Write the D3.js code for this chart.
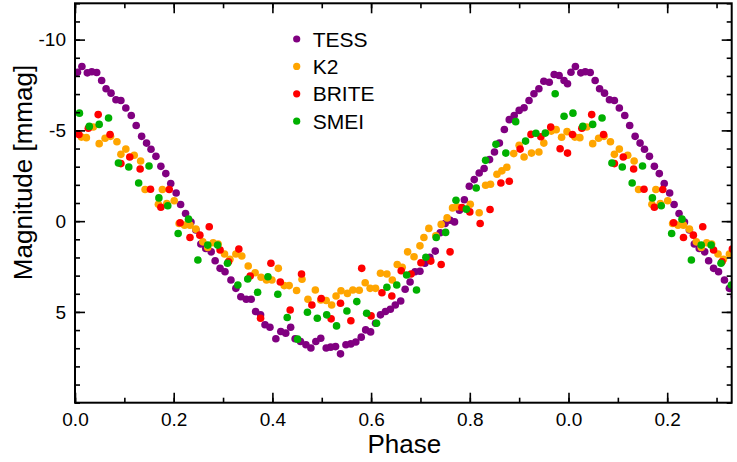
<!DOCTYPE html>
<html>
<head>
<meta charset="utf-8">
<title>Phased light curve</title>
<script src="https://d3js.org/d3.v7.min.js"></script>
<style>
  body { margin: 0; background: #fff; }
  text { font-family: "Liberation Sans", Arial, Helvetica, sans-serif; fill: #000; }
</style>
</head>
<body>
<script>
// one cycle of phase / magnitude (mmag) per instrument
// every point is drawn again at phase + 1
const tessPhase = [0.005,0.014,0.025,0.034,0.044,0.054,0.063,0.073,0.083,0.093,0.103,0.114,0.124,0.135,0.145,0.154,0.164,0.174,0.184,0.194,
  0.205,0.214,0.224,0.235,0.245,0.255,0.265,0.276,0.284,0.294,0.304,0.316,0.326,0.336,0.347,0.357,0.366,0.376,0.385,0.395,
  0.407,0.417,0.427,0.437,0.446,0.457,0.468,0.478,0.488,0.498,0.509,0.518,0.528,0.538,0.549,0.559,0.569,0.580,0.589,0.599,
  0.609,0.619,0.629,0.639,0.649,0.660,0.669,0.679,0.689,0.699,0.709,0.719,0.730,0.740,0.750,0.760,0.769,0.779,0.789,0.799,
  0.809,0.819,0.829,0.840,0.850,0.860,0.870,0.880,0.890,0.900,0.910,0.920,0.930,0.940,0.950,0.961,0.971,0.981,0.991,0.998];
const tessMag = [-8.20,-8.52,-8.17,-8.23,-8.19,-7.75,-7.29,-7.05,-6.69,-6.65,-6.23,-5.82,-5.27,-4.67,-4.30,-3.96,-3.57,-3.02,-2.62,-2.07,
  -1.55,-0.92,-0.42,0.05,0.49,1.26,1.50,1.69,2.18,2.60,2.79,3.24,3.70,4.16,4.30,4.30,4.98,5.16,5.71,5.84,
  6.48,6.08,6.17,5.84,6.48,6.63,6.81,6.99,6.63,6.45,6.99,6.94,6.91,7.31,6.81,6.76,6.66,6.39,5.99,6.10,
  5.62,5.16,4.98,4.85,4.62,4.40,3.75,3.35,2.79,2.76,2.32,1.99,1.65,0.64,0.13,-0.05,0.04,-0.60,-1.18,-1.92,
  -2.29,-2.65,-2.90,-3.39,-3.81,-4.30,-5.05,-5.59,-5.82,-6.10,-6.25,-6.65,-7.02,-7.29,-7.71,-7.65,-8.08,-8.02,-7.75,-7.57];

const k2Phase = [0.013,0.023,0.037,0.049,0.061,0.072,0.085,0.093,0.103,0.120,0.133,0.142,0.169,0.177,0.186,0.201,0.211,0.222,0.233,0.245,
  0.259,0.269,0.280,0.290,0.303,0.314,0.326,0.338,0.351,0.365,0.377,0.388,0.399,0.412,0.424,0.434,0.449,0.460,0.472,0.487,
  0.498,0.509,0.520,0.529,0.539,0.552,0.563,0.576,0.588,0.598,0.609,0.619,0.632,0.643,0.653,0.663,0.674,0.687,0.699,0.707,
  0.717,0.731,0.742,0.754,0.765,0.774,0.801,0.819,0.832,0.842,0.855,0.865,0.875,0.889,0.900,0.910,0.925,0.940,0.950,0.965,
  0.975,0.986,0.997];
const k2Mag = [-4.63,-4.60,-5.19,-4.27,-4.57,-4.67,-4.37,-3.68,-3.97,-3.63,-3.31,-1.74,-0.93,-1.74,-0.97,-1.12,0.13,0.22,0.22,0.44,
  1.14,1.45,1.19,1.26,1.81,2.10,1.81,1.92,2.47,2.84,3.09,3.24,3.24,2.60,3.55,3.55,3.82,3.20,4.30,3.79,
  4.34,4.37,4.62,4.12,3.83,3.98,3.79,3.81,3.39,3.70,3.70,2.87,2.91,3.24,2.39,2.54,1.69,1.96,1.36,0.90,
  0.40,0.81,0.18,-0.18,-0.73,-0.79,-0.93,-0.46,-1.98,-2.03,-2.58,-2.77,-2.97,-3.72,-4.18,-3.53,-3.75,-3.81,-4.30,-4.96,
  -5.04,-4.62,-4.93];

const britePhase = [0.008,0.027,0.047,0.071,0.093,0.111,0.132,0.153,0.174,0.191,0.213,0.233,0.253,0.272,0.294,0.311,0.332,0.355,0.376,0.397,
  0.416,0.436,0.459,0.480,0.499,0.519,0.538,0.559,0.581,0.600,0.622,0.642,0.661,0.681,0.701,0.721,0.742,0.760,0.784,0.800,
  0.821,0.841,0.863,0.880,0.902,0.924,0.944,0.964,0.983,0.998];
const briteMag = [-4.77,-5.12,-5.87,-4.77,-3.17,-3.53,-2.87,-1.76,-0.77,-1.74,0.09,0.90,0.77,0.31,1.59,2.24,1.54,3.02,5.35,2.32,
  3.35,4.89,2.91,4.62,4.26,5.38,4.52,5.49,2.60,5.22,3.94,4.12,2.73,2.91,2.29,2.20,2.39,1.69,-0.75,-0.51,
  0.13,-0.64,-2.10,-2.20,-3.97,-4.78,-4.65,-5.18,-3.99,-3.75];

const smeiPhase = [0.009,0.029,0.049,0.068,0.088,0.109,0.129,0.150,0.170,0.188,0.209,0.230,0.249,0.269,0.289,0.309,0.330,0.350,0.370,0.391,
  0.411,0.430,0.451,0.471,0.491,0.510,0.530,0.551,0.571,0.591,0.611,0.632,0.652,0.672,0.692,0.711,0.732,0.751,0.772,0.793,
  0.813,0.832,0.853,0.873,0.893,0.913,0.934,0.953,0.973,0.991];
const smeiMag = [-5.95,-5.22,-5.33,-5.68,-3.20,-2.98,-2.10,-3.04,-1.28,-0.85,0.68,-0.11,2.14,1.32,1.32,2.32,3.52,3.19,3.92,3.06,
  4.03,5.31,6.50,5.02,5.35,5.16,5.77,4.95,4.43,5.07,5.62,3.64,3.52,2.97,3.79,1.99,0.90,0.62,-1.15,-0.66,
  -1.83,-3.35,-4.23,-3.75,-5.48,-4.41,-4.84,-4.85,-7.02,-5.78];

const seriesNames = ["TESS", "K2", "BRITE", "SMEI"];
const seriesColors = ["#800080", "#ffa500", "#ff0000", "#00b000"];
const seriesPhase = [tessPhase, k2Phase, britePhase, smeiPhase];
const seriesMag = [tessMag, k2Mag, briteMag, smeiMag];

const xTicks = [0, 0.2, 0.4, 0.6, 0.8, 1.0, 1.2];
const yTicks = [-10, -5, 0, 5];

const W = 737, H = 462;
const margin = { top: 3.3, right: 5.3, bottom: 59.3, left: 75 };
const width = W - margin.left - margin.right;
const height = H - margin.top - margin.bottom;

const svg = d3.select("body").append("svg")
  .attr("width", W)
  .attr("height", H);

const g = svg.append("g")
  .attr("transform", "translate(" + margin.left + "," + margin.top + ")");

const x = d3.scaleLinear().domain([0, 1.3307]).range([0, width]);
const y = d3.scaleLinear().domain([-12, 10]).range([0, height]);

g.append("clipPath").attr("id", "clip")
  .append("rect").attr("width", width).attr("height", height);

// points, each cycle drawn twice
const dots = g.append("g").attr("clip-path", "url(#clip)");
seriesNames.forEach(function(name, s) {
  let pts = [];
  seriesPhase[s].forEach(function(p, i) {
    pts.push({ p: p, m: seriesMag[s][i] });
    pts.push({ p: p + 1, m: seriesMag[s][i] });
  });
  dots.append("g").selectAll("circle")
    .data(pts.filter(d => d.p <= 1.36))
    .enter().append("circle")
    .attr("cx", d => x(d.p))
    .attr("cy", d => y(d.m))
    .attr("r", 3.8)
    .attr("fill", seriesColors[s]);
});

// axes, ticks pointing inward
const xMinor = d3.range(0, 1.35, 0.1);
const yMinor = d3.range(-12, 10.5, 1);
const fmtPhase = d => ((d + 1e-9) % 1).toFixed(1);
const fmtMag = d => String(d); // plain hyphen for negatives

function styleAxis(sel) {
  sel.select(".domain").remove();
  sel.selectAll("line").attr("stroke", "#000").attr("stroke-width", 1.6);
  sel.selectAll("text").style("font-size", "19px");
}

g.append("g").attr("transform", "translate(0," + height + ")")
  .call(d3.axisBottom(x).tickValues(xMinor).tickSize(-5).tickFormat(""))
  .call(styleAxis);
g.append("g").attr("transform", "translate(0," + height + ")")
  .call(d3.axisBottom(x).tickValues(xTicks).tickSize(-10).tickPadding(10).tickFormat(fmtPhase))
  .call(styleAxis);
g.append("g")
  .call(d3.axisTop(x).tickValues(xMinor).tickSize(-5).tickFormat(""))
  .call(styleAxis);
g.append("g")
  .call(d3.axisTop(x).tickValues(xTicks).tickSize(-10).tickFormat(""))
  .call(styleAxis);

g.append("g")
  .call(d3.axisLeft(y).tickValues(yMinor).tickSize(-5).tickFormat(""))
  .call(styleAxis);
g.append("g")
  .call(d3.axisLeft(y).tickValues(yTicks).tickSize(-10).tickPadding(9).tickFormat(fmtMag))
  .call(styleAxis);
g.append("g").attr("transform", "translate(" + width + ",0)")
  .call(d3.axisRight(y).tickValues(yMinor).tickSize(-5).tickFormat(""))
  .call(styleAxis);
g.append("g").attr("transform", "translate(" + width + ",0)")
  .call(d3.axisRight(y).tickValues(yTicks).tickSize(-10).tickFormat(""))
  .call(styleAxis);

// frame
g.append("rect")
  .attr("width", width).attr("height", height)
  .attr("fill", "none").attr("stroke", "#000").attr("stroke-width", 2);

// axis titles
svg.append("text")
  .attr("x", margin.left + width / 2 + 1)
  .attr("y", 453)
  .attr("text-anchor", "middle")
  .style("font-size", "26px")
  .text("Phase");

svg.append("text")
  .attr("transform", "translate(32,172.5) rotate(-90)")
  .attr("text-anchor", "middle")
  .style("font-size", "26px")
  .text("Magnitude [mmag]");

// legend
const legend = svg.selectAll(".legend")
  .data(seriesNames)
  .enter().append("g")
  .attr("class", "legend")
  .attr("transform", (d, i) => "translate(296.7," + (39 + i * 27.4) + ")");

legend.append("circle")
  .attr("r", 3.6)
  .attr("fill", (d, i) => seriesColors[i]);

legend.append("text")
  .attr("x", 16)
  .attr("y", 7.6)
  .style("font-size", "21px")
  .text(d => d);
</script>
</body>
</html>
